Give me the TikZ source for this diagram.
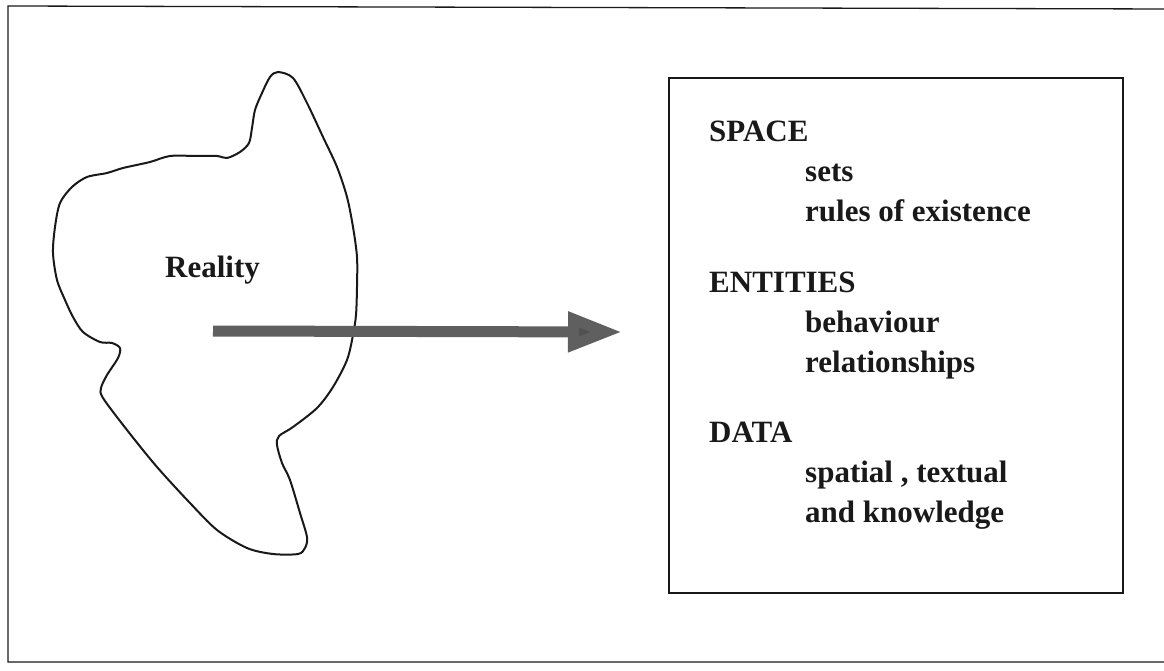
\documentclass[tikz,border=0pt]{standalone}
\usepackage{fontspec}
\setmainfont{Liberation Serif}
\usetikzlibrary{arrows.meta}
\definecolor{arrowgray}{RGB}{95,95,95}
\definecolor{inkcol}{RGB}{25,25,25}
\tikzset{
  lbl/.style={anchor=base west, inner sep=0pt, font=\fontsize{31}{37}\selectfont\bfseries, text=inkcol},
  bigarrow/.style={draw=arrowgray, line width=11pt, -{Triangle[length=54pt, width=38pt, fill=arrowgray!85!black]}},
  framestyle/.style={draw=inkcol, line width=1.3pt},
  blobstyle/.style={draw=inkcol, line width=2pt, line join=round},
  boxstyle/.style={draw=inkcol, line width=2.4pt, inner sep=0pt}
}
\begin{document}
\begin{tikzpicture}[x=1pt, y=-1pt]
\useasboundingbox (0,0) rectangle (1164,671);
% outer frame (open on the right)
\draw[framestyle] (1170,9) -- (8,6) -- (8,662) -- (1170,662);
% reality blob
\draw[blobstyle] plot[smooth cycle, tension=0.5] coordinates {
(278,72) (293,78) (307,103) (323,137) (337,167) (347,197) (353,227) (357,257)
(357,287) (356,315) (353,335) (347,360) (333,387) (317,408) (293,427) (279,436)
(277,445) (282,463) (290,480) (300,513) (307,537) (305,548) (298,554) (273,554)
(247,548) (217,530) (190,503) (157,467) (127,430) (103,398) (101,388) (107,375)
(118,358) (120,348) (112,343) (100,342) (83,332) (73,317) (65,300) (57,280)
(53,253) (55,227) (60,203) (72,187) (87,177) (107,173) (123,168) (150,162)
(170,156) (197,156) (217,156) (227,158) (240,152) (249,143) (252,128) (255,110)
(262,93) (270,77)};
\node[lbl] (reality) at (165,277) {Reality};
% arrow
\coordinate (arrowstart) at (213,331);
\coordinate (arrowend) at (622,332);
\draw[bigarrow] (arrowstart) -- (arrowend);
% box
\node[boxstyle, anchor=north west, minimum width=454pt, minimum height=515pt] (modelbox) at (668,77) {};
\node[lbl] (space) at (709,142) {SPACE};
\node[lbl] (sets) at (805,182) {sets};
\node[lbl] (rules) at (805,222) {rules of existence};
\node[lbl] (entities) at (709,292) {ENTITIES};
\node[lbl] (behaviour) at (805,332) {behaviour};
\node[lbl] (relationships) at (805,372) {relationships};
\node[lbl] (data) at (709,442) {DATA};
\node[lbl] (spatial) at (805,482) {spatial , textual};
\node[lbl] (knowledge) at (805,522) {and knowledge};
\end{tikzpicture}
\end{document}
